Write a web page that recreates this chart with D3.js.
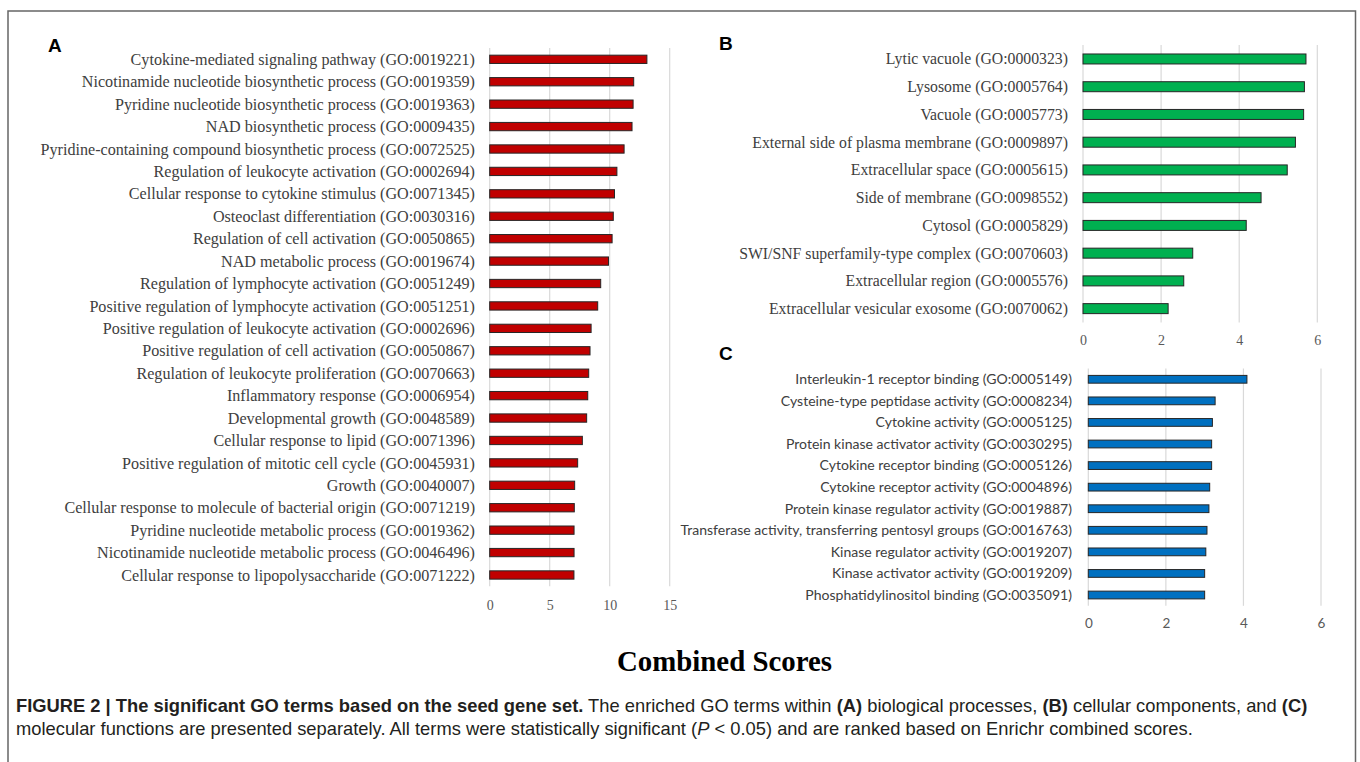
<!DOCTYPE html>
<html>
<head>
<meta charset="utf-8">
<script src="https://cdn.jsdelivr.net/npm/d3@7"></script>
<style>
  body { margin: 0; background: #fff; }
  svg { display: block; }
</style>
</head>
<body>
<script>
// GO terms and Enrichr combined scores
var termsA = [
  "Cytokine-mediated signaling pathway (GO:0019221)",
  "Nicotinamide nucleotide biosynthetic process (GO:0019359)",
  "Pyridine nucleotide biosynthetic process (GO:0019363)",
  "NAD biosynthetic process (GO:0009435)",
  "Pyridine-containing compound biosynthetic process (GO:0072525)",
  "Regulation of leukocyte activation (GO:0002694)",
  "Cellular response to cytokine stimulus (GO:0071345)",
  "Osteoclast differentiation (GO:0030316)",
  "Regulation of cell activation (GO:0050865)",
  "NAD metabolic process (GO:0019674)",
  "Regulation of lymphocyte activation (GO:0051249)",
  "Positive regulation of lymphocyte activation (GO:0051251)",
  "Positive regulation of leukocyte activation (GO:0002696)",
  "Positive regulation of cell activation (GO:0050867)",
  "Regulation of leukocyte proliferation (GO:0070663)",
  "Inflammatory response (GO:0006954)",
  "Developmental growth (GO:0048589)",
  "Cellular response to lipid (GO:0071396)",
  "Positive regulation of mitotic cell cycle (GO:0045931)",
  "Growth (GO:0040007)",
  "Cellular response to molecule of bacterial origin (GO:0071219)",
  "Pyridine nucleotide metabolic process (GO:0019362)",
  "Nicotinamide nucleotide metabolic process (GO:0046496)",
  "Cellular response to lipopolysaccharide (GO:0071222)"
];
var scoresA = [13.1, 12.0, 11.95, 11.86, 11.2, 10.6, 10.4, 10.3, 10.2, 9.9, 9.25, 9.0,
               8.45, 8.36, 8.25, 8.17, 8.08, 7.72, 7.33, 7.08, 7.05, 7.03, 7.03, 7.02];
var ticksA = [0, 5, 10, 15];

var termsB = [
  "Lytic vacuole (GO:0000323)",
  "Lysosome (GO:0005764)",
  "Vacuole (GO:0005773)",
  "External side of plasma membrane (GO:0009897)",
  "Extracellular space (GO:0005615)",
  "Side of membrane (GO:0098552)",
  "Cytosol (GO:0005829)",
  "SWI/SNF superfamily-type complex (GO:0070603)",
  "Extracellular region (GO:0005576)",
  "Extracellular vesicular exosome (GO:0070062)"
];
var scoresB = [5.71, 5.67, 5.65, 5.44, 5.23, 4.56, 4.18, 2.81, 2.58, 2.18];
var ticksB = [0, 2, 4, 6];

var termsC = [
  "Interleukin-1 receptor binding (GO:0005149)",
  "Cysteine-type peptidase activity (GO:0008234)",
  "Cytokine activity (GO:0005125)",
  "Protein kinase activator activity (GO:0030295)",
  "Cytokine receptor binding (GO:0005126)",
  "Cytokine receptor activity (GO:0004896)",
  "Protein kinase regulator activity (GO:0019887)",
  "Transferase activity, transferring pentosyl groups (GO:0016763)",
  "Kinase regulator activity (GO:0019207)",
  "Kinase activator activity (GO:0019209)",
  "Phosphatidylinositol binding (GO:0035091)"
];
var scoresC = [4.09, 3.27, 3.20, 3.18, 3.18, 3.13, 3.11, 3.06, 3.03, 3.00, 3.00];
var ticksC = [0, 2, 4, 6];

var width = 1360, height = 762;
var serif = "'Liberation Serif', 'DejaVu Serif', serif";
var sans = "Lato, 'Liberation Sans', sans-serif";

var svg = d3.select("body").append("svg")
  .attr("width", width)
  .attr("height", height);

// frame round the figure (open at the bottom)
svg.append("path")
  .attr("d", "M8,770 V11 H1355.5 V770")
  .attr("fill", "none")
  .attr("stroke", "#666")
  .attr("stroke-width", 1.5);

// scale a text's font size so it spans a given width
function fitFont(sel, target, start) {
  sel.style("font-size", start + "px");
  var w = sel.node().getComputedTextLength();
  sel.style("font-size", (start * target / w) + "px");
}

function panel(opt) {
  var g = svg.append("g");
  var x = d3.scaleLinear().domain(opt.domain).range(opt.xr);
  var y = d3.scaleBand().domain(opt.terms).range(opt.yr).padding(0);
  var bh = y.bandwidth() * opt.barRatio;

  // vertical gridlines
  g.selectAll(".grid").data(opt.ticks).enter().append("line")
    .attr("x1", function(d) { return x(d); })
    .attr("x2", function(d) { return x(d); })
    .attr("y1", opt.yr[0])
    .attr("y2", opt.yr[1])
    .attr("stroke", "#d9d9d9")
    .attr("stroke-width", 1.2);

  // x axis, drawn with d3 then stripped down to labels
  var ax = g.append("g")
    .attr("transform", "translate(0," + opt.tickY + ")")
    .call(d3.axisBottom(x).tickValues(opt.ticks).tickFormat(d3.format("d"))
      .tickSize(0).tickPadding(0));
  ax.select(".domain").remove();
  ax.selectAll("text")
    .attr("dy", "0.35em")
    .attr("fill", "#595959")
    .style("font-family", opt.tickFont)
    .style("font-size", opt.tickSize + "px");

  g.selectAll(".bar").data(opt.scores).enter().append("rect")
    .attr("x", x(0))
    .attr("y", function(d, i) { return y(opt.terms[i]) + (y.bandwidth() - bh) / 2; })
    .attr("width", function(d) { return x(d) - x(0); })
    .attr("height", bh)
    .attr("fill", opt.color)
    .attr("stroke", "#262626")
    .attr("stroke-width", 1);

  var labels = g.selectAll(".lab").data(opt.terms).enter().append("text")
    .attr("x", opt.labelX)
    .attr("y", function(d) { return y(d) + y.bandwidth() / 2; })
    .attr("dy", "0.35em")
    .attr("text-anchor", "end")
    .attr("fill", "#404040")
    .style("font-family", opt.labelFont)
    .text(function(d) { return d; });

  // size the labels from the longest one
  var longest = labels.filter(function(d) { return d === opt.longest; });
  fitFont(longest, opt.longestW, 14);
  labels.style("font-size", longest.style("font-size"));

  svg.append("text")
    .attr("x", opt.letter[0])
    .attr("y", opt.letter[1])
    .attr("font-family", "'Liberation Sans', Arial, sans-serif")
    .attr("font-weight", "bold")
    .attr("font-size", 19)
    .attr("fill", "#000")
    .text(opt.name);
}

panel({
  name: "A", letter: [48, 52],
  terms: termsA, scores: scoresA, ticks: ticksA,
  domain: [0, 15], xr: [489.7, 669.7], yr: [48.1, 586.2],
  barRatio: 0.37, color: "#c00000",
  tickY: 605, tickFont: serif, tickSize: 14,
  labelX: 475, labelFont: serif,
  longest: termsA[4], longestW: 435
});

panel({
  name: "B", letter: [719, 50],
  terms: termsB, scores: scoresB, ticks: ticksB,
  domain: [0, 6], xr: [1083, 1317.3], yr: [45.1, 322.5],
  barRatio: 0.36, color: "#00b050",
  tickY: 340, tickFont: serif, tickSize: 14,
  labelX: 1068, labelFont: serif,
  longest: termsB[7], longestW: 329
});

panel({
  name: "C", letter: [719, 360],
  terms: termsC, scores: scoresC, ticks: ticksC,
  domain: [0, 6], xr: [1088.3, 1321], yr: [368.5, 605.8],
  barRatio: 0.36, color: "#0070c0",
  tickY: 623, tickFont: sans, tickSize: 13.5,
  labelX: 1072, labelFont: sans,
  longest: termsC[7], longestW: 392
});

// shared axis title
var title = svg.append("text")
  .attr("x", 724.5)
  .attr("y", 671)
  .attr("text-anchor", "middle")
  .attr("fill", "#000")
  .style("font-family", serif)
  .style("font-weight", "bold")
  .text("Combined Scores");
fitFont(title, 215, 26);

// figure caption
var capFont = "'Liberation Sans Narrow', 'Liberation Sans', Arial, sans-serif";
var cap1 = svg.append("text").attr("x", 16).attr("y", 712)
  .attr("fill", "#231f20").style("font-family", capFont);
cap1.append("tspan").attr("font-weight", "bold")
  .text("FIGURE 2 | The significant GO terms based on the seed gene set.");
cap1.append("tspan").text(" The enriched GO terms within ");
cap1.append("tspan").attr("font-weight", "bold").text("(A)");
cap1.append("tspan").text(" biological processes, ");
cap1.append("tspan").attr("font-weight", "bold").text("(B)");
cap1.append("tspan").text(" cellular components, and ");
cap1.append("tspan").attr("font-weight", "bold").text("(C)");
fitFont(cap1, 1292, 16);

var cap2 = svg.append("text").attr("x", 16).attr("y", 735)
  .attr("fill", "#231f20").style("font-family", capFont)
  .style("font-size", cap1.style("font-size"));
cap2.append("tspan").text("molecular functions are presented separately. All terms were statistically significant (");
cap2.append("tspan").attr("font-style", "italic").text("P");
cap2.append("tspan").text(" < 0.05) and are ranked based on Enrichr combined scores.");
</script>
</body>
</html>
